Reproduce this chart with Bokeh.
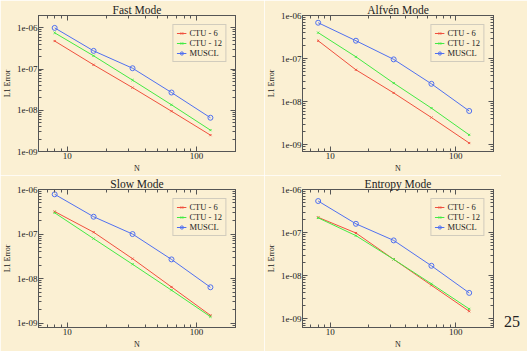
from bokeh.plotting import figure
from bokeh.models import (LogAxis, FixedTicker, CustomJSTickFormatter, NumeralTickFormatter,
                          Range1d, Div)
from bokeh.layouts import column, row
from bokeh.embed import file_html
from bokeh.resources import INLINE

N = [8, 16, 32, 64, 128]

fast_ctu6 = [4.8e-7, 1.27e-7, 3.55e-8, 9.5e-9, 2.5e-9]
fast_ctu12 = [7.6e-7, 2.1e-7, 5.4e-8, 1.36e-8, 3.3e-9]
fast_muscl = [1.0e-6, 2.77e-7, 1.05e-7, 2.7e-8, 6.6e-9]

alfven_ctu6 = [2.6e-7, 5.5e-8, 1.6e-8, 4.3e-9, 1.1e-9]
alfven_ctu12 = [4.0e-7, 1.1e-7, 2.7e-8, 7.1e-9, 1.7e-9]
alfven_muscl = [6.8e-7, 2.6e-7, 9.6e-8, 2.6e-8, 6.1e-9]

slow_ctu6 = [3.2e-7, 1.1e-7, 2.8e-8, 6.5e-9, 1.5e-9]
slow_ctu12 = [3.0e-7, 7.9e-8, 2.1e-8, 5.5e-9, 1.4e-9]
slow_muscl = [7.8e-7, 2.45e-7, 1.0e-7, 2.7e-8, 6.4e-9]

entropy_ctu6 = [2.26e-7, 9.8e-8, 2.4e-8, 6.0e-9, 1.5e-9]
entropy_ctu12 = [2.2e-7, 8.5e-8, 2.4e-8, 6.5e-9, 1.7e-9]
entropy_muscl = [5.4e-7, 1.6e-7, 6.6e-8, 1.7e-8, 4.0e-9]

series_names = ["CTU - 6", "CTU - 12", "MUSCL"]
titles = ["Fast Mode", "Alfvén Mode", "Slow Mode", "Entropy Mode"]
x_ticks = [10, 100]
y_ticks = [1e-9, 1e-8, 1e-7, 1e-6]
page_number = "25"

BG = "#fbf0d3"
FONT = "Liberation Serif"
COLORS = ["#f0503e", "#44ea44", "#5070f0"]

x_minor = [m * 10 ** e for e in range(0, 3) for m in range(2, 10)]
y_minor = [m * 10.0 ** e for e in range(-11, -5) for m in range(2, 10)]

yfmt = CustomJSTickFormatter(code="""
var s = tick.toExponential(0);
return s.replace(/e([+-])(\\d)$/, 'e$10$2');
""")


def style_axis(ax, show_labels=True):
    ax.major_tick_in = 5
    ax.major_tick_out = 0
    ax.minor_tick_in = 3
    ax.minor_tick_out = 0
    ax.axis_line_color = "#555555"
    ax.major_tick_line_color = "#555555"
    ax.minor_tick_line_color = "#555555"
    ax.major_label_text_font = FONT
    ax.major_label_text_color = "#222222"
    ax.axis_label_text_font = FONT
    ax.axis_label_text_font_style = "normal"
    ax.axis_label_text_color = "#222222"
    ax.axis_label_text_font_size = "8px"
    ax.major_label_standoff = 1
    ax.axis_label_standoff = 2
    if show_labels:
        ax.major_label_text_font_size = "9px"
    else:
        ax.major_label_text_font_size = "1px"
        ax.major_label_text_alpha = 0
        ax.major_label_standoff = 0


def make_panel(title, data, w, h, borders, yr):
    left, right, top, bottom = borders
    p = figure(width=w, height=h, x_axis_type="log", y_axis_type="log",
               x_range=Range1d(6, 200), y_range=Range1d(*yr),
               output_backend="svg", toolbar_location=None,
               background_fill_color=BG, border_fill_color=BG,
               min_border_left=left, min_border_right=right,
               min_border_top=top, min_border_bottom=bottom)
    p.title.text = title
    p.title.align = "center"
    p.title.text_font = FONT
    p.title.text_font_style = "normal"
    p.title.text_font_size = "11.5px"
    p.title.text_color = "#222222"
    p.title.standoff = 0
    p.title.offset = 0
    p.grid.visible = False
    p.outline_line_color = "#555555"

    xt = FixedTicker(ticks=x_ticks, minor_ticks=x_minor)
    yt = FixedTicker(ticks=y_ticks, minor_ticks=y_minor)
    p.xaxis.ticker = xt
    p.yaxis.ticker = yt
    p.xaxis.formatter = NumeralTickFormatter(format="0")
    p.yaxis.formatter = yfmt
    p.xaxis.axis_label = "N"
    p.yaxis.axis_label = "L1 Error"
    for ax in p.xaxis + p.yaxis:
        style_axis(ax)

    ra = LogAxis(ticker=FixedTicker(ticks=y_ticks, minor_ticks=y_minor))
    style_axis(ra, show_labels=False)
    p.add_layout(ra, "right")
    ta = LogAxis(ticker=FixedTicker(ticks=x_ticks, minor_ticks=x_minor))
    style_axis(ta, show_labels=False)
    p.add_layout(ta, "above")

    for i, (name, ys) in enumerate(zip(series_names, data)):
        c = COLORS[i]
        p.line(N, ys, line_color=c, line_width=1, legend_label=name)
        if i < 2:
            p.scatter(N, ys, marker="x", size=3, line_color=c, line_width=1,
                      legend_label=name)
        else:
            p.scatter(N, ys, marker="circle", size=5, line_color=c, line_width=1,
                      fill_alpha=0, legend_label=name)

    lg = p.legend[0]
    lg.location = "top_right"
    lg.margin = 9
    lg.padding = 3
    lg.spacing = 0
    lg.glyph_width = 10
    lg.glyph_height = 8
    lg.label_height = 8
    lg.label_standoff = 3
    lg.label_text_font = FONT
    lg.label_text_font_size = "8.5px"
    lg.label_text_color = "#222222"
    lg.border_line_color = "#a8a8a8"
    lg.border_line_width = 1
    lg.background_fill_color = BG
    lg.background_fill_alpha = 1
    return p


p1 = make_panel(titles[0], [fast_ctu6, fast_ctu12, fast_muscl], 264, 175,
                (36, 29, 15, 21), (1e-9, 2e-6))
p2 = make_panel(titles[1], [alfven_ctu6, alfven_ctu12, alfven_muscl], 263, 175,
                (29, 34, 15, 21), (7e-10, 1e-6))
p3 = make_panel(titles[2], [slow_ctu6, slow_ctu12, slow_muscl], 264, 176,
                (36, 29, 14, 22), (8e-10, 1e-6))
p4 = make_panel(titles[3], [entropy_ctu6, entropy_ctu12, entropy_muscl], 237, 176,
                (29, 8, 14, 22), (6.3e-10, 1e-6))

page = Div(text=page_number, width=26, height=176, margin=0,
           styles={"background-color": BG,
                   "font-family": "'Liberation Serif', 'DejaVu Serif', serif",
                   "font-size": "16px", "line-height": "16px",
                   "color": "#222222", "padding-top": "139px",
                   "padding-left": "3px", "box-sizing": "border-box"})

layout = column(row(p1, p2, spacing=0), row(p3, p4, page, spacing=0), spacing=0)

open("out.html", "w").write(file_html(layout, INLINE))
